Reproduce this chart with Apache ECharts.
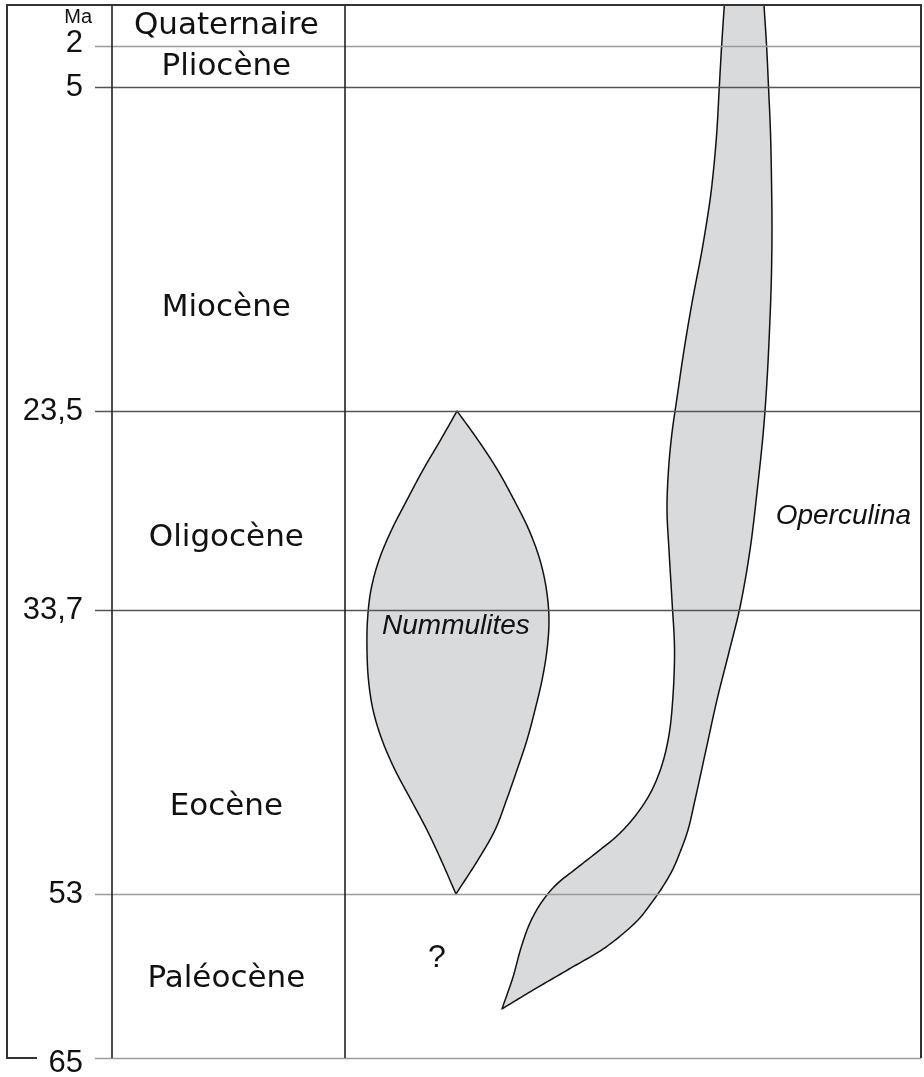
<!DOCTYPE html>
<html>
<head>
<meta charset="utf-8">
<script src="https://cdn.jsdelivr.net/npm/echarts@6/dist/echarts.min.js"></script>
<style>
html,body{margin:0;padding:0;background:#fff}
#main{width:924px;height:1077px}
</style>
</head>
<body>
<div id="main"></div>
<script>
// limites des étages (Ma)
var boundaryAges = [0, 2, 5, 23.5, 33.7, 53, 65];
// hauteur schématique de chaque étage sur l'échelle (non linéaire)
var bandSpan = [41, 41, 324, 199, 284, 164];
var stageNames = ['Quaternaire', 'Pliocène', 'Miocène', 'Oligocène', 'Eocène', 'Paléocène'];
var stageLabelAges = [1.0, 3.5, 17.6, 30.0, 47.1, 59.2];

// contours [largeur, âge Ma]
var nummulitesLeft = [[43.83, 23.5], [41.83, 24.99], [39.71, 26.52], [37.77, 28.06], [35.9, 29.6], [34.38, 31.14], [33.41, 32.67], [32.99, 34.38], [32.93, 36.42], [33.11, 38.46], [33.66, 40.49], [34.75, 42.53], [36.32, 44.57], [38.26, 46.61], [40.19, 48.65], [41.89, 50.68], [43.7, 53.0]];
var nummulitesRight = [[43.83, 23.5], [46.37, 24.99], [48.73, 26.52], [50.73, 28.06], [52.54, 29.6], [53.87, 31.14], [54.66, 32.67], [54.96, 34.38], [54.72, 36.42], [54.12, 38.46], [53.27, 40.49], [52.3, 42.53], [51.09, 44.57], [49.82, 46.61], [48.43, 48.65], [46.37, 50.68], [43.7, 53.0]];
var operculinaLeft = [[76.19, 0], [75.87, 1.95], [75.58, 5.0], [75.27, 7.63], [74.88, 9.74], [74.46, 11.45], [73.49, 14.31], [72.34, 17.16], [71.31, 20.02], [70.42, 22.88], [69.85, 24.63], [69.43, 26.52], [69.25, 28.57], [69.49, 30.62], [69.85, 33.19], [70.16, 36.42], [69.94, 39.81], [69.49, 42.19], [68.64, 44.23], [67.31, 46.06], [65.5, 47.63], [63.32, 48.99], [61.14, 50.0], [58.35, 51.23], [55.81, 52.38], [54.0, 53.66], [52.66, 55.12], [51.57, 56.95], [50.61, 59.07], [49.27, 61.41]];
var operculinaRight = [[80.99, 0], [81.3, 1.95], [81.54, 5.0], [81.78, 7.63], [81.9, 10.31], [81.96, 13.17], [81.88, 16.02], [81.66, 18.88], [81.36, 21.73], [80.93, 24.47], [80.27, 27.19], [79.3, 30.62], [78.09, 33.55], [76.82, 36.42], [75.3, 39.81], [73.97, 43.21], [72.64, 46.61], [71.79, 48.65], [70.94, 50.0], [69.92, 51.36], [68.64, 52.59], [67.19, 53.8], [65.74, 54.9], [61.86, 56.88], [57.63, 58.41], [53.06, 60.02], [49.27, 61.41]];

var taxonNames = ['Nummulites', 'Operculina'];
var taxonLabelX = [43.7, 90.6];
var taxonLabelAges = [34.8, 28.9];
var unknownMark = [41.4, 57.7]; // "?"

// âge -> position sur l'échelle schématique
function depth(age) {
    var d = 0;
    for (var i = 0; i < bandSpan.length; i++) {
        var a0 = boundaryAges[i], a1 = boundaryAges[i + 1];
        if (age <= a1 || i == bandSpan.length - 1) {
            return d + (age - a0) / (a1 - a0) * bandSpan[i];
        }
        d += bandSpan[i];
    }
    return d;
}

// lissage catmull-rom centripète (en pixels)
function spline(pts, n) {
    var m = pts.length;
    var ext = [[2 * pts[0][0] - pts[1][0], 2 * pts[0][1] - pts[1][1]]]
        .concat(pts, [[2 * pts[m - 1][0] - pts[m - 2][0], 2 * pts[m - 1][1] - pts[m - 2][1]]]);
    function knot(a, b) {
        return Math.pow(Math.pow(b[0] - a[0], 2) + Math.pow(b[1] - a[1], 2), 0.25) || 1e-6;
    }
    function lerp(a, b, ta, tb, t) {
        var u = (t - ta) / (tb - ta);
        return [a[0] + (b[0] - a[0]) * u, a[1] + (b[1] - a[1]) * u];
    }
    var out = [pts[0]];
    for (var i = 1; i < ext.length - 2; i++) {
        var p0 = ext[i - 1], p1 = ext[i], p2 = ext[i + 1], p3 = ext[i + 2];
        var t0 = 0, t1 = t0 + knot(p0, p1), t2 = t1 + knot(p1, p2), t3 = t2 + knot(p2, p3);
        for (var k = 1; k <= n; k++) {
            var t = t1 + (t2 - t1) * k / n;
            var a1 = lerp(p0, p1, t0, t1, t), a2 = lerp(p1, p2, t1, t2, t), a3 = lerp(p2, p3, t2, t3, t);
            var b1 = lerp(a1, a2, t0, t2, t), b2 = lerp(a2, a3, t1, t3, t);
            out.push(lerp(b1, b2, t1, t2, t));
        }
    }
    return out;
}

function outlineSeries(name, left, right) {
    return {
        type: 'custom',
        name: name,
        z: 3,
        silent: true,
        data: [[0, 0]],
        renderItem: function (params, api) {
            var toPx = function (p) { return api.coord([p[0], depth(p[1])]); };
            var l = spline(left.map(toPx), 14);
            var r = spline(right.map(toPx), 14).reverse();
            return {
                type: 'polygon',
                shape: { points: l.concat(r) },
                style: { fill: '#d9dadc', stroke: '#111', lineWidth: 1.5, lineJoin: 'round' }
            };
        }
    };
}

function ageLabel(v) {
    for (var i = 0; i < boundaryAges.length; i++) {
        if (Math.abs(depth(boundaryAges[i]) - v) < 0.01) {
            var a = boundaryAges[i];
            var s = String(a).replace('.', ',');
            if (a == 2) return '{up|' + s + '}';
            if (a == 65) return '{dn|' + s + '}';
            return '{n|' + s + '}';
        }
    }
    return '';
}

var lineData = boundaryAges.slice(1).map(function (a) {
    var light = (a == 2 || a == 53 || a == 65);
    return { yAxis: depth(a), lineStyle: { color: light ? '#9a9a9a' : '#555', width: 1.3, type: 'solid' } };
});
[2.06, 30.27].forEach(function (x) {
    lineData.push({ xAxis: x, lineStyle: { color: '#222', width: 1.6, type: 'solid' } });
});

var labelItem = { color: 'transparent', opacity: 1 };

var chart = echarts.init(document.getElementById('main'));
chart.setOption({
    animation: false,
    backgroundColor: '#fff',
    grid: { left: 95, right: 3, top: 5, bottom: 19, containLabel: false, outerBoundsMode: 'none' },
    xAxis: {
        type: 'value', min: 0, max: 100,
        axisLine: { show: false }, axisTick: { show: false },
        axisLabel: { show: false }, splitLine: { show: false }
    },
    yAxis: {
        type: 'value', inverse: true, min: 0, max: depth(65),
        name: 'Ma', nameLocation: 'start', nameGap: -12,
        nameTextStyle: { fontFamily: 'Liberation Sans', fontSize: 20, color: '#111', align: 'right', verticalAlign: 'middle', padding: [0, 3, 0, 0] },
        axisLine: { show: false }, axisTick: { show: false }, splitLine: { show: false },
        axisLabel: {
            customValues: boundaryAges.slice(1).map(depth),
            formatter: ageLabel,
            margin: 12,
            color: '#111',
            fontFamily: 'Liberation Sans',
            fontSize: 31,
            rich: {
                n: { fontFamily: 'Liberation Sans', fontSize: 31, color: '#111' },
                up: { fontFamily: 'Liberation Sans', fontSize: 31, color: '#111', padding: [0, 0, 6, 0] },
                dn: { fontFamily: 'Liberation Sans', fontSize: 31, color: '#111', padding: [10, 0, 0, 0] }
            }
        }
    },
    graphic: [{
        type: 'polyline',
        z: 10,
        shape: { points: [[37, 1058], [7, 1058], [7, 5], [921, 5], [921, 1058]] },
        style: { stroke: '#333', lineWidth: 2, fill: null }
    }],
    series: [
        {
            type: 'scatter',
            name: 'étages',
            z: 1,
            silent: true,
            symbolSize: 1,
            itemStyle: labelItem,
            data: stageNames.map(function (n, i) {
                return { name: n, value: [15.9, depth(stageLabelAges[i])] };
            }),
            label: {
                show: true, position: 'inside', formatter: '{b}', opacity: 1,
                fontFamily: 'DejaVu Sans', fontSize: 31, color: '#111'
            },
            markLine: {
                silent: true,
                symbol: ['none', 'none'],
                label: { show: false },
                data: lineData
            }
        },
        outlineSeries('Nummulites', nummulitesLeft, nummulitesRight),
        outlineSeries('Operculina', operculinaLeft, operculinaRight),
        {
            type: 'scatter',
            name: 'taxons',
            z: 5,
            silent: true,
            symbolSize: 1,
            itemStyle: labelItem,
            data: taxonNames.map(function (n, i) {
                return { name: n, value: [taxonLabelX[i], depth(taxonLabelAges[i])] };
            }),
            label: {
                show: true, position: 'inside', formatter: '{b}', opacity: 1,
                fontFamily: 'Liberation Sans', fontStyle: 'italic', fontSize: 28, color: '#111'
            }
        },
        {
            type: 'scatter',
            name: '?',
            z: 5,
            silent: true,
            symbolSize: 1,
            itemStyle: labelItem,
            data: [{ name: '?', value: [unknownMark[0], depth(unknownMark[1])] }],
            label: {
                show: true, position: 'inside', formatter: '{b}', opacity: 1,
                fontFamily: 'Liberation Sans', fontSize: 32, color: '#111'
            }
        }
    ]
});
</script>
</body>
</html>
